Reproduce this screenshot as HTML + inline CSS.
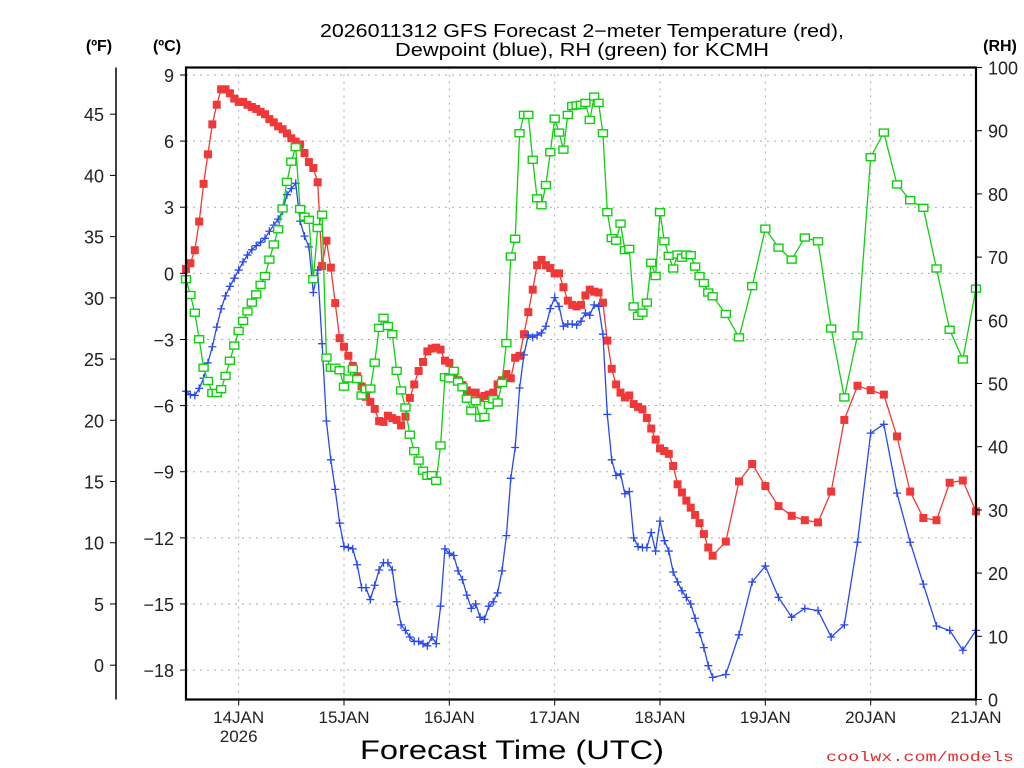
<!DOCTYPE html>
<html><head><meta charset="utf-8">
<style>
html,body{margin:0;padding:0;background:#fff;}
svg{display:block;font-family:"Liberation Sans",sans-serif;}
</style></head>
<body>
<svg id="chart" width="1024" height="768" viewBox="0 0 1024 768" xmlns="http://www.w3.org/2000/svg">
<rect x="0" y="0" width="1024" height="768" fill="#fff"/>
<text x="582" y="37" font-size="18" text-anchor="middle" textLength="524" lengthAdjust="spacingAndGlyphs">2026011312 GFS Forecast 2−meter Temperature (red),</text>
<text x="582" y="56" font-size="18" text-anchor="middle" textLength="374" lengthAdjust="spacingAndGlyphs">Dewpoint (blue), RH (green) for KCMH</text>
<text x="99" y="51" font-size="16" font-weight="bold" text-anchor="middle">(ºF)</text>
<text x="167" y="51" font-size="16" font-weight="bold" text-anchor="middle">(ºC)</text>
<text x="1000" y="51" font-size="16" font-weight="bold" text-anchor="middle">(RH)</text>
<text x="512" y="759" font-size="27" text-anchor="middle" textLength="304" lengthAdjust="spacingAndGlyphs">Forecast Time (UTC)</text>
<text x="1014" y="761" font-size="14" fill="#e03030" text-anchor="end" font-family="Liberation Mono, monospace" textLength="188" lengthAdjust="spacingAndGlyphs">coolwx.com/models</text>
<g id="grid"></g>
<g id="series"></g>
<g id="axes"></g>
</svg>
<script>
// ---- data ----
const dayLabels = ["14JAN","15JAN","16JAN","17JAN","18JAN","19JAN","20JAN","21JAN"];
const celsiusTicks = [9,6,3,0,-3,-6,-9,-12,-15,-18];
const fahrenheitTicks = [45,40,35,30,25,20,15,10,5,0];
const rhTicks = [100,90,80,70,60,50,40,30,20,10,0];
const tempHourly = [0.2,0.46,1.05,2.35,4.06,5.4,6.76,7.65,8.35,8.35,8.17,7.93,7.78,7.78,7.65,7.55,7.46,7.33,7.22,7.0,6.85,6.67,6.54,6.35,6.13,5.98,5.85,5.46,5.05,4.78,4.13,0.33,1.48,0.26,-1.35,-2.94,-3.33,-3.74,-4.2,-4.67,-5.13,-5.6,-5.83,-6.15,-6.7,
-6.74,-6.46,-6.57,-6.65,-6.9,-6.5,-5.65,-5.04,-4.43,-4.02,-3.54,-3.41,-3.37,-3.46,-3.96,-4.06,-4.57,-4.85,-5.07,-5.31,-5.41,-5.41,-5.65,-5.56,-5.5,-5.41,-5.04,-4.85,-4.57,-4.76,-3.83,-3.74,-2.76,-1.76,-0.74,0.37,0.61,0.37,0.24,0.0,0.0,-0.63,-1.24,
-1.43,-1.5,-1.43,-1.0,-0.74,-0.83,-0.87,-1.33,-3.05,-4.33,-5.04,-5.41,-5.63,-5.54,-5.93,-6.06,-6.17,-6.56,-7.04,-7.54,-7.94,-8.06,-8.19,-8.74,-9.57,-9.94,-10.31,-10.63,-10.96,-11.33,-11.83,-12.44,-12.81];
const temp3h = [-12.17,-9.44,-8.65,-9.65,-10.56,-11.0,-11.2,-11.3,-9.9,-6.65,-5.1,-5.3,-5.5,-7.4,-9.9,-11.1,-11.2,-9.5,-9.4,-10.8];
const dewHourly = [-5.35,-5.5,-5.54,-5.22,-4.76,-4.06,-3.33,-2.44,-1.61,-1.02,-0.59,-0.22,0.15,0.52,0.83,1.07,1.26,1.41,1.59,1.91,2.19,2.46,2.83,3.57,3.85,4.09,2.37,1.69,1.2,-0.87,0.15,-3.19,-6.7,-8.46,-9.8,-11.33,-12.39,-12.44,-12.5,-13.22,-14.26,-14.26,-14.8,-14.15,-13.46,
-13.13,-13.13,-13.46,-14.9,-15.95,-16.2,-16.5,-16.7,-16.7,-16.8,-16.9,-16.5,-16.8,-15.1,-12.5,-12.7,-12.8,-13.5,-13.9,-14.6,-15.2,-15.0,-15.6,-15.7,-15.1,-14.9,-14.5,-13.5,-11.9,-9.3,-7.9,-5.2,-3.7,-2.8,-2.9,-2.8,-2.7,-2.4,-1.6,-1.1,-1.5,-2.4,-2.3,
-2.3,-2.35,-2.17,-1.8,-1.9,-1.43,-1.5,-2.76,-6.4,-8.46,-9.17,-9.1,-10.0,-9.9,-12.0,-12.4,-12.44,-12.44,-11.76,-12.6,-11.24,-12.13,-12.6,-13.55,-14.0,-14.4,-14.7,-15.0,-15.65,-16.3,-16.98,-17.8,-18.33];
const dew3h = [-18.2,-16.4,-14.0,-13.28,-14.7,-15.6,-15.2,-15.3,-16.5,-15.95,-12.2,-7.25,-6.85,-9.97,-12.2,-14.1,-16.0,-16.2,-17.1,-16.2];
const rhHourly = [66.5,64,61.2,57,52.5,50.4,48.5,48.5,49.1,51.2,53.6,56,58.3,59.9,61.4,62.8,64.1,65.6,67,69.6,72,74.4,77.7,81.9,85.1,87.4,77.6,76.4,75.9,66.5,74.6,76.7,54.1,52.5,52.5,52.1,49.5,50.8,52.3,50.7,48.1,49.1,49.2,53.3,58.8,
60.4,59.1,57.8,52,48.9,46.2,41.9,39.3,37.8,36.2,35.4,35.5,34.6,40.2,51,50.8,52,50.3,49.4,47.6,45.7,47.2,44.6,44.7,46.6,47.5,47,50.1,56.4,70.1,72.9,89.6,92.5,92.5,85.4,79.3,78.2,81.4,86.6,91.9,89.7,87,92.5,
93.9,94,94.1,94.4,91.7,95.4,94.4,89.6,77.1,73,72.6,75.3,71.1,71.3,62.2,60.7,61.2,62.8,69.1,67,77.1,72.5,70.2,68.2,70.4,69.9,70.4,70.3,68.5,67,65.9,64.4,63.8];
const rh3h = [61,57.3,65.4,74.5,71.5,69.6,73.1,72.5,58.7,47.8,57.6,85.8,89.7,81.5,79,77.8,68.2,58.5,53.8,65];

// ---- scales ----
const L=186,R=976,T=67.5,B=699.5;
const pxPerHour=(R-L)/180;
function xs(h){return L+h*pxPerHour;}
function yC(c){return 75+(9-c)*22.04;}
function yRH(r){return B+(T-B)*r/100;}
function yF(f){return yC((f-32)/1.8);}

const NS="http://www.w3.org/2000/svg";
function mk(tag,attrs,parent){const e=document.createElementNS(NS,tag);for(const k in attrs)e.setAttribute(k,attrs[k]);parent.appendChild(e);return e;}
const grid=document.getElementById('grid'),series=document.getElementById('series'),axes=document.getElementById('axes');

// hours
const hours=[];for(let h=0;h<=120;h++)hours.push(h);
const hours3=[];for(let h=123;h<=180;h+=3)hours3.push(h);
const allHours=hours.concat(hours3);

// grid
celsiusTicks.forEach(c=>{
  const g=mk('line',{x1:L,x2:R,y1:yC(c),y2:yC(c),stroke:'#aaa','stroke-width':1,'stroke-dasharray':'2,5'},grid);
  
  
});
dayLabels.forEach((d,i)=>{
  const x=xs(12+24*i);
  if(i<dayLabels.length-1){
    const g=mk('line',{x1:x,x2:x,y1:T,y2:B,stroke:'#aaa','stroke-width':1,'stroke-dasharray':'2,5'},grid);
    
    
  }
});

function drawSeries(vals,yf,color,name,marker){
  const g=mk('g',{},series);
  
  
  const pts=vals.map((v,i)=>xs(allHours[i]).toFixed(1)+','+yf(v).toFixed(1)).join(' ');
  const pl=mk('polyline',{points:pts,fill:'none',stroke:color,'stroke-width':1.3},g);
  
  
  vals.forEach((v,i)=>{
    const x=xs(allHours[i]),y=yf(v);
    let m;
    if(marker==='fill'){m=mk('rect',{x:x-4,y:y-4,width:8,height:8,fill:color},g);}
    else if(marker==='open'){m=mk('rect',{x:x-4.5,y:y-3.5,width:9,height:7,fill:'#fff',stroke:color,'stroke-width':1.4},g);}
    else {m=mk('path',{d:`M${x-4},${y}H${x+4}M${x},${y-4}V${y+4}`,stroke:color,'stroke-width':1.3,fill:'none'},g);}
    
    
  });
}
drawSeries(tempHourly.concat(temp3h),yC,'#f03838','temperature','fill');
drawSeries(dewHourly.concat(dew3h),yC,'#2848f0','dewpoint','plus');
drawSeries(rhHourly.concat(rh3h),yRH,'#10d010','rh','open');

// frame
const fr=mk('rect',{x:L,y:T,width:R-L,height:B-T,fill:'none',stroke:'#000','stroke-width':2.2},axes);



// celsius axis
celsiusTicks.forEach(c=>{
  const y=yC(c);
  const t=mk('line',{x1:L-6,x2:L,y1:y,y2:y,stroke:'#000','stroke-width':1},axes);
  
  
  const lb=mk('text',{x:174,y:y+7,'font-size':18,'text-anchor':'end',fill:'#222'},axes);
  lb.textContent=c<0?'−'+Math.abs(c):String(c);
  
  
});
// fahrenheit axis
const fl=mk('line',{x1:116,x2:116,y1:T,y2:B,stroke:'#000','stroke-width':1.5},axes);


fahrenheitTicks.forEach(f=>{
  const y=yF(f);
  const t=mk('line',{x1:110,x2:116,y1:y,y2:y,stroke:'#000','stroke-width':1},axes);
  
  
  const lb=mk('text',{x:104,y:y+7,'font-size':18,'text-anchor':'end',fill:'#222'},axes);
  lb.textContent=String(f);
  
  
});
// RH axis
rhTicks.forEach(r=>{
  const y=yRH(r);
  const t=mk('line',{x1:R,x2:R+6,y1:y,y2:y,stroke:'#000','stroke-width':1},axes);
  
  
  const lb=mk('text',{x:988,y:y+7,'font-size':18,'text-anchor':'start',fill:'#222'},axes);
  lb.textContent=String(r);
  
  
});
// x axis
dayLabels.forEach((d,i)=>{
  const x=xs(12+24*i);
  const t=mk('line',{x1:x,x2:x,y1:B,y2:B+6,stroke:'#000','stroke-width':1},axes);
  
  
  const lb=mk('text',{x:x,y:723,'font-size':17,'text-anchor':'middle',fill:'#222'},axes);
  lb.textContent=d;
  
  
});
const yr=mk('text',{x:xs(12),y:742,'font-size':17,'text-anchor':'middle',fill:'#222'},axes);
yr.textContent='2026';


</script>
</body></html>
